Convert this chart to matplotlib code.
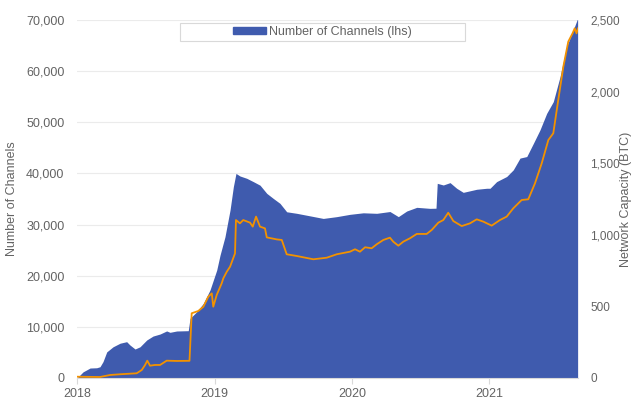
import numpy as np
import matplotlib.pyplot as plt
from matplotlib.patches import Rectangle, Patch
from matplotlib.ticker import FuncFormatter

plt.rcParams['font.family'] = ['Liberation Sans', 'DejaVu Sans']

# Number of channels (lhs), x in fractional years
ch_t = [2018.00, 2018.044, 2018.095, 2018.143, 2018.167, 2018.189, 2018.216, 2018.262,
        2018.313, 2018.361, 2018.385, 2018.422, 2018.458, 2018.507, 2018.553, 2018.604,
        2018.652, 2018.676, 2018.725, 2018.809, 2018.822, 2018.871, 2018.919, 2018.967,
        2019.016, 2019.040, 2019.076, 2019.113, 2019.137, 2019.156, 2019.185, 2019.234,
        2019.282, 2019.331, 2019.380, 2019.428, 2019.476, 2019.525, 2019.598, 2019.695,
        2019.791, 2019.889, 2019.985, 2020.082, 2020.180, 2020.276, 2020.337, 2020.398,
        2020.471, 2020.567, 2020.611, 2020.620, 2020.664, 2020.713, 2020.761, 2020.809,
        2020.907, 2020.980, 2021.004, 2021.052, 2021.125, 2021.173, 2021.222, 2021.271,
        2021.319, 2021.367, 2021.416, 2021.464, 2021.513, 2021.561, 2021.609, 2021.641]
channels = [0, 1200, 1950, 2000, 2200, 3200, 5100, 6100,
            6800, 7100, 6450, 5670, 6100, 7430, 8200, 8600,
            9200, 8930, 9190, 9250, 11670, 12970, 14600, 17200,
            21100, 24000, 27600, 32850, 37400, 40000, 39500, 39050,
            38400, 37700, 36100, 35100, 34150, 32500, 32200, 31700,
            31200, 31550, 32000, 32300, 32200, 32550, 31550, 32650,
            33370, 33170, 33200, 38060, 37740, 38200, 37100, 36300,
            36900, 37100, 37100, 38400, 39400, 40700, 43000, 43300,
            45870, 48500, 51750, 54030, 58900, 64800, 68050, 70300]

# Network capacity in BTC (rhs)
cap_t = [2018.00, 2018.167, 2018.240, 2018.313, 2018.434, 2018.471, 2018.495, 2018.511,
         2018.531, 2018.567, 2018.604, 2018.652, 2018.725, 2018.818, 2018.834, 2018.882,
         2018.919, 2018.955, 2018.980, 2018.991, 2019.016, 2019.052, 2019.064, 2019.089,
         2019.113, 2019.149, 2019.156, 2019.185, 2019.209, 2019.258, 2019.278, 2019.302,
         2019.331, 2019.367, 2019.380, 2019.452, 2019.489, 2019.525, 2019.598, 2019.719,
         2019.816, 2019.889, 2019.985, 2020.022, 2020.058, 2020.095, 2020.143, 2020.180,
         2020.228, 2020.276, 2020.300, 2020.337, 2020.373, 2020.422, 2020.471, 2020.543,
         2020.580, 2020.628, 2020.664, 2020.700, 2020.737, 2020.798, 2020.858, 2020.907,
         2020.955, 2021.016, 2021.076, 2021.125, 2021.173, 2021.234, 2021.282, 2021.331,
         2021.380, 2021.428, 2021.464, 2021.500, 2021.537, 2021.573, 2021.604, 2021.620,
         2021.633, 2021.644]
capacity = [9, 7, 21, 26, 33, 56, 91, 121,
            86, 91, 91, 121, 119, 120, 452, 468,
            498, 568, 591, 498, 580, 661, 696, 742,
            777, 870, 1103, 1080, 1103, 1085, 1057, 1127,
            1057, 1045, 982, 968, 964, 864, 852, 829,
            840, 864, 882, 899, 882, 913, 906, 934,
            964, 980, 952, 924, 952, 976, 1006, 1006,
            1034, 1085, 1103, 1154, 1096, 1061, 1080, 1108,
            1092, 1064, 1103, 1127, 1185, 1243, 1248, 1360,
            1500, 1662, 1709, 1941, 2174, 2349, 2407, 2442,
            2407, 2442]

years = [2018, 2019, 2020, 2021]

blue = '#3F5BAE'
orange = '#F39200'
grey = '#636363'

fig = plt.figure(figsize=(6.35, 4.0), dpi=100)
ax = fig.add_axes([0.1213, 0.055, 0.7890, 0.895])
ax2 = ax.twinx()

ax.fill_between(ch_t, channels, 0, color=blue, lw=0, zorder=2)
ax2.plot(cap_t, capacity, color=orange, lw=1.3, zorder=3)

ax.set_xlim(2018.0, 2021.644)
ax.set_ylim(0, 70000)
ax2.set_ylim(0, 2500)
ax.set_yticks(np.arange(0, 70001, 10000))
ax2.set_yticks(np.arange(0, 2501, 500))
ax.set_xticks(years)
ax.set_xticklabels([str(y) for y in years])
fmt = FuncFormatter(lambda v, p: f'{int(v):,}')
ax.yaxis.set_major_formatter(fmt)
ax2.yaxis.set_major_formatter(fmt)

ax.grid(axis='y', color='#EBEBEB', lw=0.8, zorder=0)
ax.set_axisbelow(True)
for a in (ax, ax2):
    for s in a.spines.values():
        s.set_visible(False)
ax.spines['bottom'].set_visible(True)
ax.spines['bottom'].set_color('#D9D9D9')

ax.tick_params(axis='y', length=0, labelsize=9, labelcolor=grey, pad=9)
ax2.tick_params(axis='y', length=0, labelsize=8.5, labelcolor=grey, pad=9)
ax.tick_params(axis='x', length=4, color='#D9D9D9', labelsize=9, labelcolor=grey, pad=3)

ax.set_ylabel('Number of Channels', color=grey, fontsize=9)
ax.yaxis.set_label_coords(-0.117, 0.5)
ax2.set_ylabel('Network Capacity (BTC)', color=grey, fontsize=9)
ax2.yaxis.set_label_coords(1.083, 0.5)

# legend box
ax.add_patch(Rectangle((0.205, 0.942), 0.57, 0.05, transform=ax.transAxes,
                       facecolor='white', edgecolor='#D9D9D9', lw=0.8, zorder=5))
leg = ax.legend(handles=[Patch(color=blue, label='Number of Channels (lhs)')],
                loc='center', bbox_to_anchor=(0.49, 0.967), frameon=False,
                fontsize=9, handlelength=2.6, handleheight=0.5, handletextpad=0.3,
                labelcolor=grey)
leg.set_zorder(6)

fig.savefig('out.png', dpi=100)
